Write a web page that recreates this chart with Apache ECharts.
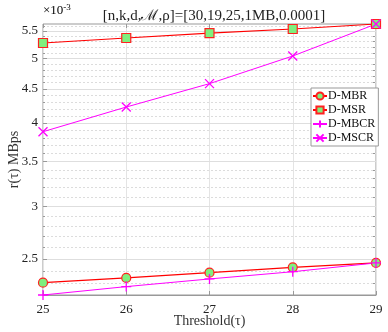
<!DOCTYPE html>
<html>
<head>
<meta charset="utf-8">
<script src="https://cdn.jsdelivr.net/npm/echarts@6/dist/echarts.min.js"></script>
<style>html,body{margin:0;padding:0;background:#fff}#chart{width:388px;height:332px}</style>
</head>
<body>
<div id="chart"></div>
<script>
// r(tau) values, in units of 1e-3 MBps
var thresholds = [25, 26, 27, 28, 29];
var dMBR  = [2.303, 2.341, 2.384, 2.429, 2.466];
var dMSR  = [5.276, 5.368, 5.460, 5.537, 5.634];
var dMBCR = [2.207, 2.272, 2.333, 2.392, 2.466];
var dMSCR = [3.882, 4.228, 4.584, 5.044, 5.634];
var yMajorTicks = [2.5, 3, 3.5, 4, 4.5, 5, 5.5];
var yMinorTicks = [2.3, 2.4, 2.6, 2.7, 2.8, 2.9, 3.1, 3.2, 3.3, 3.4, 3.6, 3.7, 3.8, 3.9,
  4.1, 4.2, 4.3, 4.4, 4.6, 4.7, 4.8, 4.9, 5.1, 5.2, 5.3, 5.4, 5.6];

var serif = "'Liberation Serif', 'DejaVu Serif', serif";
var log = function(v) { return Math.log10(v); };
var allVals = [].concat(dMBR, dMSR, dMBCR, dMSCR);
var yMin = log(Math.min.apply(null, allVals));
var yMax = log(Math.max.apply(null, allVals));

function pts(arr) {
  return thresholds.map(function(t, i) { return [t, log(arr[i])]; });
}

var chart = echarts.init(document.getElementById('chart'));

var axisGray = '#999';
var baseY = {
  type: 'value', min: yMin, max: yMax, scale: true,
  axisLine: { show: false }
};

var option = {
  animation: false,
  textStyle: { fontFamily: serif },
  title: {
    text: '[n,k,d,\u2133,\u03c1]=[30,19,25,1MB,0.0001]',
    left: 209, top: 4, textAlign: 'center',
    textStyle: { fontFamily: serif, fontSize: 15, fontWeight: 'normal', color: '#222' }
  },
  graphic: [{
    type: 'text', left: 43, top: 3,
    style: {
      text: '{a|\u00d710}{b|-3}',
      rich: {
        a: { fontFamily: serif, fontSize: 13, color: '#222' },
        b: { fontFamily: serif, fontSize: 9, color: '#222', padding: [0, 0, 7, 0] }
      }
    }
  }],
  grid: {
    left: 43, right: 12, top: 24, bottom: 37, outerBoundsMode: 'none',
    show: true, borderColor: axisGray, borderWidth: 1
  },
  legend: {
    orient: 'vertical', left: 311, top: 88,
    itemWidth: 14, itemHeight: 9, itemGap: 2,
    backgroundColor: '#fff', borderColor: axisGray, borderWidth: 1,
    padding: [2, 3, 2, 1],
    textStyle: { fontFamily: serif, fontSize: 12, color: '#111', padding: [0, 0, 0, -4] },
    data: ['D-MBR', 'D-MSR', 'D-MBCR', 'D-MSCR']
  },
  xAxis: [{
    type: 'value', min: 25, max: 29, interval: 1,
    name: 'Threshold(\u03c4)', nameLocation: 'middle', nameGap: 19, nameMoveOverlap: false,
    nameTextStyle: { fontFamily: serif, fontSize: 14, color: '#333' },
    axisLine: { show: true, lineStyle: { color: axisGray } },
    axisTick: { inside: true, length: 4, lineStyle: { color: axisGray } },
    axisLabel: { fontFamily: serif, fontSize: 13, color: '#222', margin: 8 },
    splitLine: { show: true, lineStyle: { color: '#e4e4e4', width: 1 } }
  }, {
    type: 'value', min: 25, max: 29, interval: 1, position: 'top',
    axisLine: { show: false },
    axisTick: { inside: true, length: 4, lineStyle: { color: axisGray } },
    axisLabel: { show: false }, splitLine: { show: false }
  }],
  yAxis: [
    Object.assign({}, baseY, {
      name: 'r(\u03c4) MBps', nameLocation: 'middle', nameGap: 22, nameRotate: 90, nameMoveOverlap: false,
      nameTextStyle: { fontFamily: serif, fontSize: 14, color: '#333' },
      axisTick: { show: true, inside: true, length: 4, customValues: yMajorTicks.map(log), lineStyle: { color: axisGray } },
      axisLabel: {
        customValues: yMajorTicks.map(log), fontFamily: serif, fontSize: 13, color: '#222', margin: 5,
        formatter: function(v) { return String(Math.round(Math.pow(10, v) * 10) / 10); }
      },
      splitLine: { show: true, lineStyle: { color: '#dedede', width: 1 } },
      z: 2
    }),
    Object.assign({}, baseY, {
      position: 'left', offset: 0,
      axisTick: { show: true, inside: true, length: 2, customValues: yMinorTicks.map(log), lineStyle: { color: axisGray } },
      axisLabel: { show: false, customValues: yMinorTicks.map(log) },
      splitLine: { show: true, lineStyle: { color: '#dcdcdc', width: 1, type: [2, 2] } },
      z: 1
    }),
    Object.assign({}, baseY, {
      position: 'right',
      axisTick: { show: true, inside: true, length: 3, customValues: yMajorTicks.concat(yMinorTicks).map(log), lineStyle: { color: axisGray } },
      axisLabel: { show: false, customValues: yMajorTicks.concat(yMinorTicks).map(log) },
      splitLine: { show: false }
    })
  ],
  series: [{
    name: 'D-MBR', type: 'line', data: pts(dMBR),
    symbol: 'circle', symbolSize: 9,
    lineStyle: { color: '#ff0000', width: 1.2 },
    itemStyle: { color: '#7ef07e', borderColor: '#ff2020', borderWidth: 1.2 }
  }, {
    name: 'D-MSR', type: 'line', data: pts(dMSR),
    symbol: 'rect', symbolSize: 9,
    lineStyle: { color: '#ff0000', width: 1.2 },
    itemStyle: { color: '#7ef07e', borderColor: '#ff2020', borderWidth: 1.2 }
  }, {
    name: 'D-MBCR', type: 'line', data: pts(dMBCR),
    symbol: 'path://M0,5L10,5M5,0L5,10', symbolSize: 10,
    lineStyle: { color: '#ff00ff', width: 1 },
    itemStyle: { color: '#ff00ff', borderColor: '#ff00ff', borderWidth: 1.3 }
  }, {
    name: 'D-MSCR', type: 'line', data: pts(dMSCR),
    symbol: 'path://M0,0L10,10M10,0L0,10', symbolSize: 9,
    lineStyle: { color: '#ff00ff', width: 1 },
    itemStyle: { color: '#ff00ff', borderColor: '#ff00ff', borderWidth: 1.3 }
  }]
};

chart.setOption(option);
</script>
</body>
</html>
